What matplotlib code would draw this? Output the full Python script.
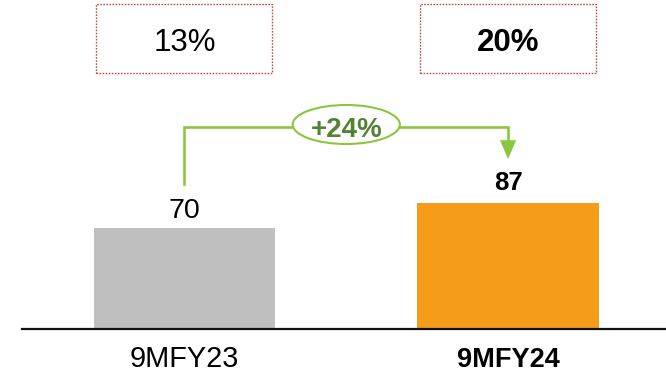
import matplotlib
matplotlib.use("Agg")
import matplotlib.pyplot as plt
from matplotlib.patches import Rectangle, Ellipse, FancyArrow

plt.rcParams['font.family'] = ['Liberation Sans', 'DejaVu Sans']

# Data
periods = ["9MFY23", "9MFY24"]
values = [70, 87]
margins = ["13%", "20%"]
growth_label = "+24%"

bar_colors = ["#BFBFBF", "#F59D1A"]
bold = [False, True]
green_line = "#8CC63F"
green_text = "#548235"
box_edge = "#C04F50"

fig = plt.figure(figsize=(6.66, 3.75), dpi=100)
ax = fig.add_axes([0, 0, 1, 1])
ax.set_xlim(-0.570, 1.488)
ax.set_ylim(-31.25, 226.3)
ax.axis("off")

x = list(range(len(periods)))
ax.bar(x, values, width=0.56, color=bar_colors, zorder=2)

# baseline
ax.axhline(0, xmin=0.033, xmax=1, color="#111111", lw=1.6, zorder=3)

# value labels and category labels
for xi, v, b in zip(x, values, bold):
    ax.annotate(str(v), (xi, v), xytext=(0, 9 if b else 7), textcoords="offset points",
                ha="center", va="baseline", fontsize=18.5 if b else 20.5,
                fontweight="bold" if b else "normal", color="black")
    ax.text(xi, -25.8, periods[xi], ha="center", va="baseline",
            fontsize=19.5 if b else 20.8, fontweight="bold" if b else "normal")

# margin boxes above the bars
for xi, m, b in zip(x, margins, bold):
    ax.add_patch(Rectangle((xi - 0.272, 176.5), 0.544, 46.8, fill=False,
                           edgecolor=box_edge, lw=1.0, linestyle=(0, (1.2, 1.0))))
    ax.text(xi, 191.5, m, ha="center", va="baseline", fontsize=22.5,
            fontweight="bold" if b else "normal")

# growth bracket
top = 139.3
gap = 30
ax.plot([x[0], x[0], x[1], x[1]],
        [values[0] + gap, top, top, values[1] + gap + 13],
        color=green_line, lw=1.9, solid_joinstyle="miter", zorder=3)
ax.add_patch(FancyArrow(x[1], values[1] + gap + 13, 0, -13, width=0.0,
                        head_width=0.05, head_length=13, length_includes_head=True,
                        color=green_line, lw=0, zorder=3))
ax.add_patch(Ellipse((0.5, 140.8), 0.331, 26.8, facecolor="white",
                     edgecolor=green_line, lw=1.5, zorder=4))
ax.text(0.5, 132.3, growth_label, ha="center", va="baseline", fontsize=20,
        fontweight="bold", color=green_text, zorder=5)

fig.savefig("out.png", dpi=100)
